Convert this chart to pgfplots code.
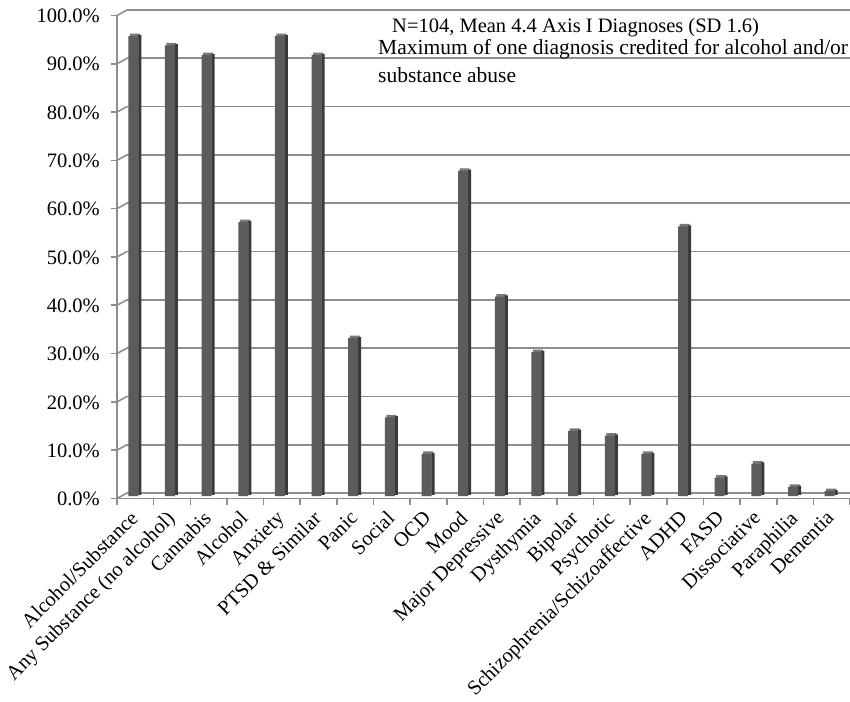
\documentclass[border=0pt]{standalone}
\usepackage{fontspec}
\setmainfont{Liberation Serif}
\usepackage{pgfplots}
\usepackage{pgfplotstable}
\pgfplotsset{compat=1.18}

\definecolor{barfront}{HTML}{5C5C5C}
\definecolor{barside}{HTML}{3A3A3A}
\definecolor{bartop}{HTML}{787878}
\definecolor{gridc}{HTML}{8E8E8E}

% share of patients (N=104) with each Axis I diagnosis, in percent
\pgfplotstableread{
idx value
0  95.2
1  93.3
2  91.3
3  56.7
4  95.2
5  91.3
6  32.7
7  16.3
8  8.7
9  67.3
10 41.3
11 29.8
12 13.5
13 12.5
14 8.7
15 55.8
16 3.8
17 6.7
18 1.9
19 1.0
}\diagnoses

\begin{document}
\begin{tikzpicture}
\path[use as bounding box] (0pt,0pt) rectangle (850pt,701pt);
\begin{axis}[
  at={(117pt,205pt)}, anchor=south west,
  scale only axis, width=733pt, height=483pt,
  xmin=-0.5, xmax=19.5, ymin=0, ymax=100,
  clip=false,
  axis line style={draw=none},
  tick style={draw=none},
  xtick={0,...,19},
  xticklabels={Alcohol/Substance, Any Substance (no alcohol), Cannabis, Alcohol, Anxiety, PTSD \& Similar, Panic, Social, OCD, Mood, Major Depressive, Dysthymia, Bipolar, Psychotic, Schizophrenia/Schizoaffective, ADHD, FASD, Dissociative, Paraphilia, Dementia},
  xticklabel style={rotate=45, anchor=north east, inner sep=0pt, xshift=-14pt, yshift=-5pt, font=\fontsize{20.5}{24}\selectfont},
  ytick={0,10,...,100},
  yticklabels={0.0\%,10.0\%,20.0\%,30.0\%,40.0\%,50.0\%,60.0\%,70.0\%,80.0\%,90.0\%,100.0\%},
  yticklabel style={anchor=east, inner sep=0pt, xshift=-17pt, yshift=-3pt, font=\fontsize{20.5}{24}\selectfont},
]
% back-wall gridlines with their links to the front axis
\pgfplotsinvokeforeach{0,10,20,30,40,50,60,70,80,90,100}{
  \draw[gridc, line width=1.6pt] ([xshift=10pt,yshift=3pt]axis cs:-0.5,#1) -- ([yshift=3pt]axis cs:19.5,#1);
  \draw[gridc, line width=1.6pt] ([yshift=-2.5pt]axis cs:-0.5,#1) -- ([xshift=10pt,yshift=3pt]axis cs:-0.5,#1);
  \draw[gridc, line width=1.6pt] ([xshift=-6pt,yshift=-2.5pt]axis cs:-0.5,#1) -- ([yshift=-2.5pt]axis cs:-0.5,#1);
}
% front axis lines
\draw[gridc, line width=1.6pt] ([yshift=-2.5pt]axis cs:-0.5,0) -- ([yshift=-2.5pt]axis cs:-0.5,100);
\draw[gridc, line width=1.6pt] ([yshift=-2.5pt]axis cs:-0.5,0) -- ([yshift=-2.5pt]axis cs:19.5,0);
\pgfplotsinvokeforeach{0,...,20}{
  \draw[gridc, line width=1.6pt] ([yshift=-2.5pt]axis cs:#1-0.5,0) -- ([yshift=-8.5pt]axis cs:#1-0.5,0);
}
% bar tops, sides and fronts
\addplot[ybar, bar width=10pt, bar shift=-0.5pt, fill=bartop, draw=none, yshift=2.5pt] table[x=idx,y=value]{\diagnoses};
\addplot[ybar, bar width=3pt, bar shift=4.5pt, fill=barside, draw=none, yshift=1.2pt] table[x=idx,y=value]{\diagnoses};
\addplot[ybar, bar width=10pt, bar shift=-2pt, fill=barfront, draw=none] table[x=idx,y=value]{\diagnoses};
\end{axis}
% note in the upper right
\node[anchor=base west, inner sep=0pt, font=\fontsize{20.5}{25}\selectfont] at (392pt,668pt) {N=104, Mean 4.4 Axis I Diagnoses (SD 1.6)};
\node[anchor=base west, inner sep=0pt, font=\fontsize{21.5}{25}\selectfont] at (378pt,646pt) {Maximum of one diagnosis credited for alcohol and/or};
\node[anchor=base west, inner sep=0pt, font=\fontsize{21.5}{25}\selectfont] at (378pt,618pt) {substance abuse};
\end{tikzpicture}
\end{document}
